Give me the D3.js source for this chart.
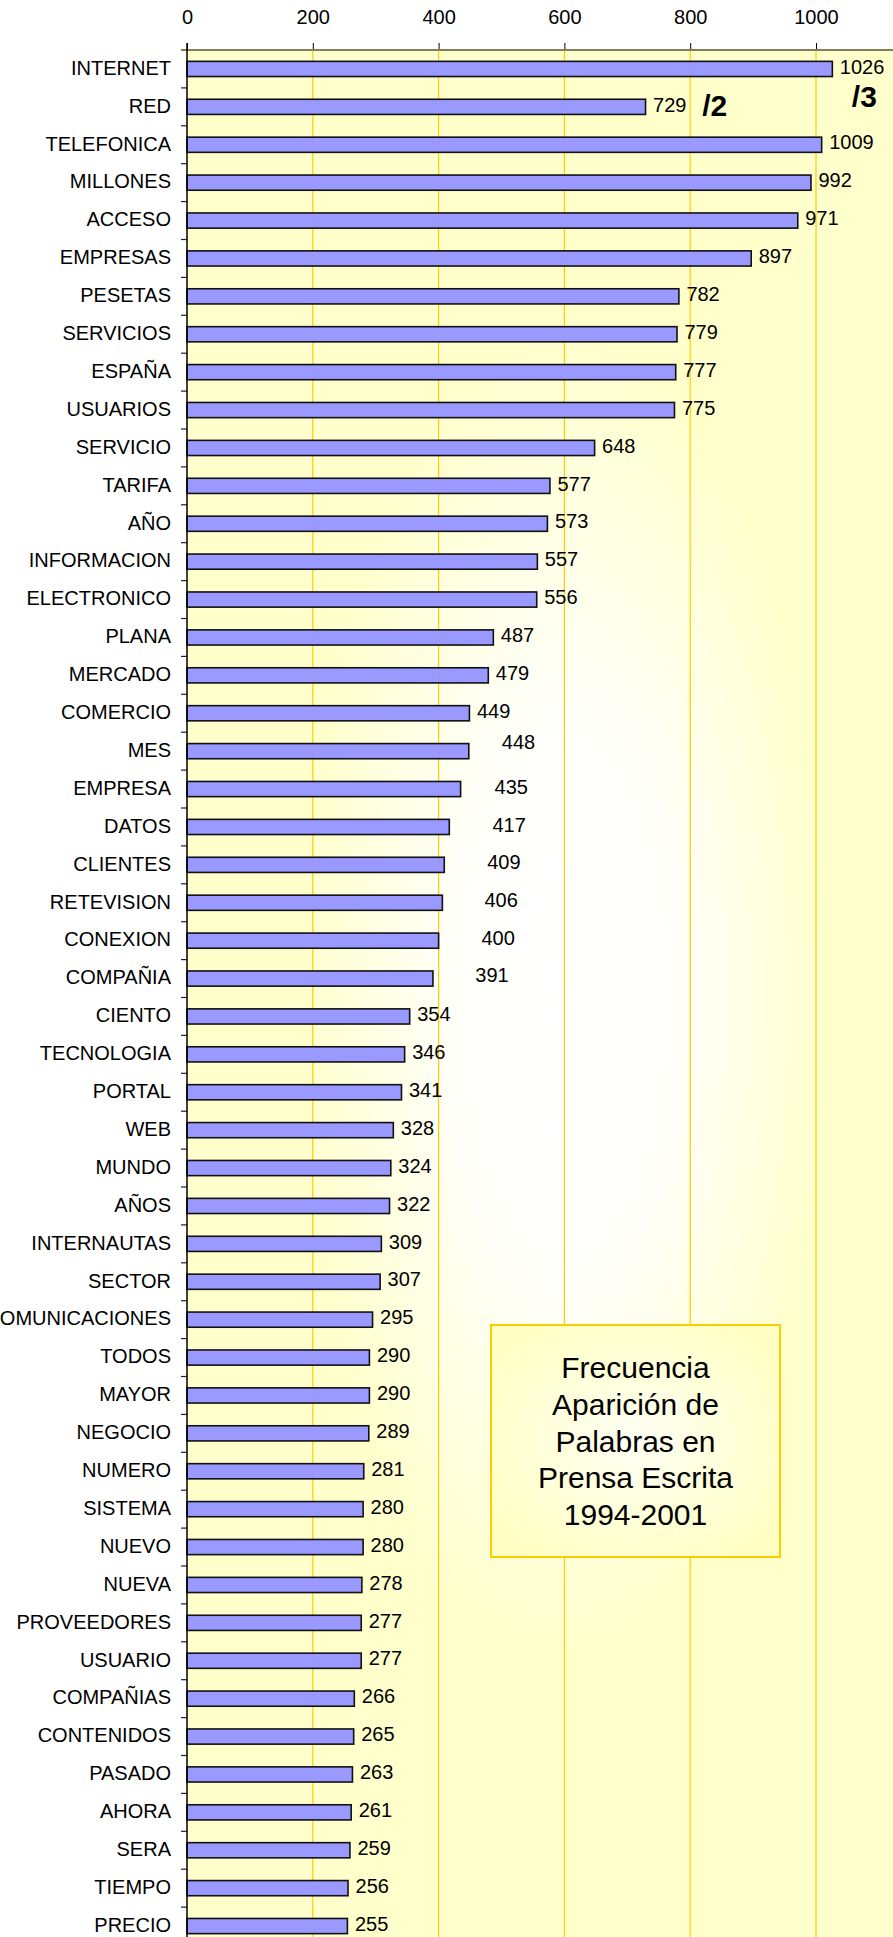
<!DOCTYPE html>
<html>
<head>
<meta charset="utf-8">
<script src="https://cdn.jsdelivr.net/npm/d3@7"></script>
<style>
  body { margin: 0; background: white; }
  svg { display: block; font-family: "Liberation Sans", Arial, sans-serif; }
</style>
</head>
<body>
<div id="chart"></div>
<script>
// word frequency, press 1994-2001
const categories = [
  'INTERNET', 'RED', 'TELEFONICA', 'MILLONES', 'ACCESO', 'EMPRESAS', 'PESETAS',
  'SERVICIOS', 'ESPAÑA', 'USUARIOS', 'SERVICIO', 'TARIFA', 'AÑO', 'INFORMACION',
  'ELECTRONICO', 'PLANA', 'MERCADO', 'COMERCIO', 'MES', 'EMPRESA', 'DATOS',
  'CLIENTES', 'RETEVISION', 'CONEXION', 'COMPAÑIA', 'CIENTO', 'TECNOLOGIA',
  'PORTAL', 'WEB', 'MUNDO', 'AÑOS', 'INTERNAUTAS', 'SECTOR', 'TELECOMUNICACIONES',
  'TODOS', 'MAYOR', 'NEGOCIO', 'NUMERO', 'SISTEMA', 'NUEVO', 'NUEVA',
  'PROVEEDORES', 'USUARIO', 'COMPAÑIAS', 'CONTENIDOS', 'PASADO', 'AHORA',
  'SERA', 'TIEMPO', 'PRECIO'
];
const values = [
  1026, 729, 1009, 992, 971, 897, 782,
  779, 777, 775, 648, 577, 573, 557,
  556, 487, 479, 449, 448, 435, 417,
  409, 406, 400, 391, 354, 346,
  341, 328, 324, 322, 309, 307, 295,
  290, 290, 289, 281, 280, 280, 278,
  277, 277, 266, 265, 263, 261,
  259, 256, 255
];
const xTicks = [0, 200, 400, 600, 800, 1000];
const scaleNotes = ['/2', '/3'];
const titleLines = ['Frecuencia', 'Aparición de', 'Palabras en', 'Prensa Escrita', '1994-2001'];

// some value labels sit off to the right in the original (px nudges)
const labelNudge = {
  'MES': [25.5, -6.5], 'EMPRESA': [26.5, 0], 'DATOS': [35.7, 0], 'CLIENTES': [35.4, -0.5],
  'RETEVISION': [34.6, 0], 'CONEXION': [35.3, -0.7], 'COMPAÑIA': [34.9, -1.7]
};

const data = categories.map((c, i) => ({ category: c, value: values[i] }));

const W = 893, H = 1937;
const plot = { left: 187, top: 50, right: 943, bottom: 1945 };

const svg = d3.select('#chart').append('svg')
  .attr('width', W).attr('height', H);

const defs = svg.append('defs');
const bg = defs.append('radialGradient').attr('id', 'plotBg')
  .attr('cx', 0.5).attr('cy', 0.5).attr('r', 0.5);
bg.append('stop').attr('offset', 0).attr('stop-color', '#ffffff');
bg.append('stop').attr('offset', 0.3).attr('stop-color', '#fffffa');
bg.append('stop').attr('offset', 0.7).attr('stop-color', '#ffffcc');
bg.append('stop').attr('offset', 1).attr('stop-color', '#ffffcc');

const boxBg = defs.append('radialGradient').attr('id', 'boxBg')
  .attr('cx', 0.5).attr('cy', 0.5).attr('r', 0.6);
boxBg.append('stop').attr('offset', 0).attr('stop-color', '#fffff4');
boxBg.append('stop').attr('offset', 1).attr('stop-color', '#ffffc4');

const x = d3.scaleLinear()
  .domain([0, (plot.right - plot.left) / 0.629])
  .range([plot.left, plot.right]);

const y = d3.scaleBand()
  .domain(categories)
  .range([plot.top, plot.bottom])
  .paddingInner(0.6)
  .paddingOuter(0.3);

// plot background
svg.append('rect')
  .attr('x', plot.left).attr('y', plot.top)
  .attr('width', plot.right - plot.left).attr('height', plot.bottom - plot.top)
  .attr('fill', 'url(#plotBg)');

// gridlines
svg.append('g')
  .selectAll('line')
  .data(xTicks.filter(d => d > 0))
  .enter().append('line')
  .attr('x1', d => x(d)).attr('x2', d => x(d))
  .attr('y1', plot.top).attr('y2', plot.bottom)
  .attr('stroke', '#ffcc00')
  .attr('stroke-width', 1.2);

// title box
const boxX = 491, boxY = 1325, boxW = 289, boxH = 232;
svg.append('rect')
  .attr('x', boxX).attr('y', boxY)
  .attr('width', boxW).attr('height', boxH)
  .attr('fill', 'url(#boxBg)')
  .attr('stroke', '#ffcc00')
  .attr('stroke-width', 2);

svg.append('text')
  .attr('text-anchor', 'middle')
  .style('font-size', '30px')
  .selectAll('tspan')
  .data(titleLines)
  .enter().append('tspan')
  .attr('x', boxX + boxW / 2)
  .attr('y', (d, i) => boxY + boxH / 2 + (i - 2) * 36.75 + 10.5)
  .text(d => d);

// top axis
const xAxis = svg.append('g')
  .attr('transform', `translate(0,${plot.top})`)
  .call(d3.axisTop(x).tickValues(xTicks).tickSize(7).tickPadding(19).tickFormat(d3.format('d')));
xAxis.select('.domain').remove();
xAxis.selectAll('.tick line').attr('stroke', '#000');
xAxis.selectAll('.tick text')
  .style('font-size', '20px')
  .attr('font-family', null)
  .attr('fill', '#000');

svg.append('line')
  .attr('x1', plot.left - 6).attr('x2', W)
  .attr('y1', plot.top).attr('y2', plot.top)
  .attr('stroke', '#7f7f58')
  .attr('stroke-width', 2);

// left axis, ticks between categories
const boundaries = categories.map(c => y(c) - y.step() * y.paddingInner() / 2);
svg.append('g')
  .selectAll('line')
  .data(boundaries.slice(1))
  .enter().append('line')
  .attr('x1', plot.left - 6).attr('x2', plot.left)
  .attr('y1', d => d).attr('y2', d => d)
  .attr('stroke', '#222')
  .attr('stroke-width', 1.2);

svg.append('g')
  .selectAll('text')
  .data(data)
  .enter().append('text')
  .attr('x', plot.left - 16)
  .attr('y', d => y(d.category) + y.bandwidth() / 2 + 5.8)
  .attr('text-anchor', 'end')
  .style('font-size', '20px')
  .text(d => d.category);

// bars
svg.append('g')
  .selectAll('rect')
  .data(data)
  .enter().append('rect')
  .attr('x', x(0))
  .attr('y', d => y(d.category))
  .attr('width', d => x(d.value) - x(0))
  .attr('height', y.bandwidth())
  .attr('fill', '#9999ff')
  .attr('stroke', '#111')
  .attr('stroke-width', 1.6);

svg.append('line')
  .attr('x1', plot.left).attr('x2', plot.left)
  .attr('y1', plot.top - 7).attr('y2', H)
  .attr('stroke', '#000')
  .attr('stroke-width', 1.5);

// value labels
svg.append('g')
  .selectAll('text')
  .data(data)
  .enter().append('text')
  .attr('x', d => x(d.value) + 7.5 + (labelNudge[d.category] ? labelNudge[d.category][0] : 0))
  .attr('y', d => y(d.category) + y.bandwidth() / 2 + 4.7 + (labelNudge[d.category] ? labelNudge[d.category][1] : 0))
  .style('font-size', '20px')
  .text(d => d.value);

// scale notes (/2, /3), both next to the RED row
const noteX = { '/2': x(819), '/3': x(1057) };
const noteDy = { '/2': 9, '/3': 0.5 };
svg.append('g')
  .selectAll('text')
  .data(scaleNotes)
  .enter().append('text')
  .attr('x', d => noteX[d])
  .attr('y', d => y('RED') + y.bandwidth() / 2 + noteDy[d])
  .style('font-size', '30px')
  .style('font-weight', 'bold')
  .text(d => d);
</script>
</body>
</html>
